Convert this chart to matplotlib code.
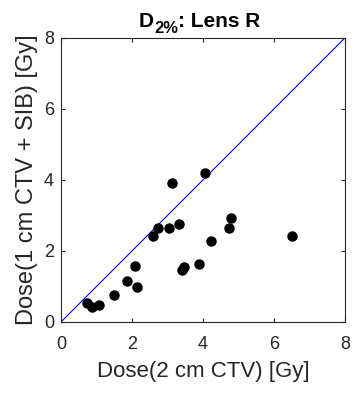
import matplotlib
matplotlib.use("Agg")
import matplotlib.pyplot as plt

plt.rcParams['font.family'] = ['Liberation Sans', 'DejaVu Sans']

# dose values
dose_2cm = [0.73, 0.88, 1.08, 1.49, 1.86, 2.14, 2.07, 2.60, 2.72, 3.05, 3.31,
            3.14, 4.05, 3.42, 3.47, 3.90, 4.22, 6.50, 4.80, 4.73]
dose_1cm = [0.52, 0.43, 0.49, 0.76, 1.14, 0.98, 1.58, 2.43, 2.65, 2.65, 2.76,
            3.90, 4.20, 1.45, 1.54, 1.64, 2.29, 2.41, 2.92, 2.65]
ticks = [0, 2, 4, 6, 8]

W, H = 359, 407
fig = plt.figure(figsize=(W / 100, H / 100), dpi=100)
ax = fig.add_axes([0.170, 0.209, 0.791, 0.698])

ax.plot([0, 8], [0, 8], color='blue', lw=0.8)
ax.plot(dose_2cm, dose_1cm, 'o', color='black', markersize=6.5)

ax.set_xlim(0, 8)
ax.set_ylim(0, 8)
ax.set_xticks(ticks)
ax.set_yticks(ticks)
ax.tick_params(direction='in', top=True, right=True, labelsize=13,
               color='#262626', labelcolor='#262626', length=3)
ax.tick_params(axis='x', pad=10)
ax.tick_params(axis='y', pad=5)
for s in ax.spines.values():
    s.set_color('#262626')
    s.set_linewidth(0.8)

ax.set_xlabel('Dose(2 cm CTV) [Gy]', fontsize=16, color='#262626', labelpad=6)
ax.set_ylabel('Dose(1 cm CTV + SIB) [Gy]', fontsize=17, color='#262626', labelpad=4)

# title with a large, low subscript (built from three pieces)
r = fig.canvas.get_renderer()
x = 139 / W
base = (H - 27) / H
sub = (H - 33) / H
for txt, y, fs in [('D', base, 15), ('2%', sub, 12), (': Lens R', base, 15)]:
    t = fig.text(x, y, txt, fontsize=fs, fontweight='bold', va='baseline', ha='left')
    x += t.get_window_extent(r).width / W

fig.savefig('out.png', dpi=100)
